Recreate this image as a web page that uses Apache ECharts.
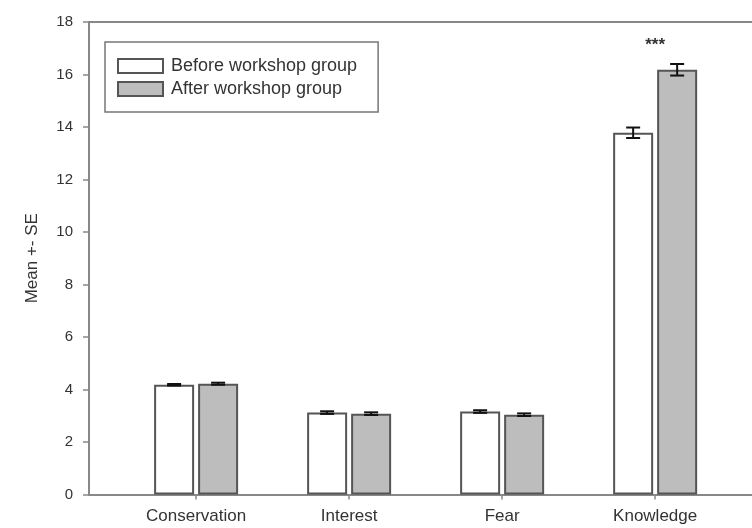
<!DOCTYPE html>
<html>
<head>
<meta charset="utf-8">
<script src="https://cdn.jsdelivr.net/npm/echarts@6/dist/echarts.min.js"></script>
<style>
html,body{margin:0;padding:0;background:#fff;}
#chart{width:752px;height:528px;}
</style>
</head>
<body>
<div id="chart"></div>
<script>
var categories = ['Conservation', 'Interest', 'Fear', 'Knowledge'];
var beforeMean = [4.18, 3.12, 3.16, 13.78];
var beforeSE = [0.03, 0.05, 0.05, 0.2];
var afterMean = [4.22, 3.08, 3.04, 16.18];
var afterSE = [0.04, 0.05, 0.05, 0.22];
var significance = ['', '', '', '***'];
var yTicks = [0, 2, 4, 6, 8, 10, 12, 14, 16, 18];

var FONT = 'Liberation Sans, Arial, sans-serif';
var BAR_W = 40, BAR_GAP_PX = 4;
var half = (BAR_W + BAR_GAP_PX) / 2;

function pts(arr) { return arr.map(function (v, i) { return [i, v]; }); }
function errData(m, s) { return m.map(function (v, i) { return [i, v, s[i]]; }); }

function errRender(dir) {
  return function (params, api) {
    var x = api.value(0), m = api.value(1), e = api.value(2);
    var top = api.coord([x, m + e]);
    var bot = api.coord([x, m - e]);
    var cx = top[0] + dir * half;
    var cap = 7;
    var st = { stroke: '#111', lineWidth: 2 };
    return {
      type: 'group',
      children: [
        { type: 'line', shape: { x1: cx, y1: top[1], x2: cx, y2: bot[1] }, style: st },
        { type: 'line', shape: { x1: cx - cap, y1: top[1], x2: cx + cap, y2: top[1] }, style: st },
        { type: 'line', shape: { x1: cx - cap, y1: bot[1], x2: cx + cap, y2: bot[1] }, style: st }
      ]
    };
  };
}

var chart = echarts.init(document.getElementById('chart'), null, { renderer: 'canvas' });
var option = {
  animation: false,
  backgroundColor: '#fff',
  textStyle: { fontFamily: FONT },
  grid: { left: 89, right: 0, top: 22, bottom: 33.5, containLabel: false },
  legend: {
    orient: 'vertical',
    left: 105, top: 42,
    data: ['Before workshop group', 'After workshop group'],
    borderColor: '#777', borderWidth: 1.5,
    padding: [15, 21, 14, 12],
    itemWidth: 45, itemHeight: 14, itemGap: 5,
    icon: 'rect',
    textStyle: { fontSize: 18, color: '#333', fontFamily: FONT, padding: [0, 0, 0, 3] }
  },
  xAxis: [{
    type: 'value', min: -0.7, max: 3.633,
    splitLine: { show: false },
    axisLine: { show: true, onZero: false, lineStyle: { color: '#888', width: 2 } },
    axisTick: { show: true, length: 5, customValues: [0, 1, 2, 3], lineStyle: { color: '#888', width: 1.5 } },
    axisLabel: {
      customValues: [0, 1, 2, 3], margin: 13,
      fontSize: 17, color: '#333', fontFamily: FONT,
      formatter: function (v) { return categories[Math.round(v)]; }
    }
  }, {
    type: 'value', position: 'top', min: -0.7, max: 3.633,
    splitLine: { show: false },
    axisLine: { show: true, onZero: false, lineStyle: { color: '#888', width: 2 } },
    axisTick: { show: false }, axisLabel: { show: false }
  }],
  yAxis: {
    type: 'value', min: 0, max: 18, interval: 2,
    name: 'Mean +- SE', nameLocation: 'middle', nameGap: 48,
    nameTextStyle: { fontSize: 17, color: '#333', fontFamily: FONT },
    splitLine: { show: false },
    axisLine: { show: true, onZero: false, lineStyle: { color: '#888', width: 2 } },
    axisTick: { show: true, inside: false, length: 6, lineStyle: { color: '#888', width: 1.5 } },
    axisLabel: {
      margin: 16, fontSize: 15, color: '#333', fontFamily: FONT,
      customValues: yTicks
    }
  },
  series: [{
    name: 'Before workshop group', type: 'bar', xAxisIndex: 0,
    data: pts(beforeMean), barWidth: BAR_W, barGap: '10%',
    itemStyle: { color: '#ffffff', borderColor: '#555', borderWidth: 2 }
  }, {
    name: 'After workshop group', type: 'bar', xAxisIndex: 0,
    data: pts(afterMean), barWidth: BAR_W, barGap: '10%',
    itemStyle: { color: '#bdbdbd', borderColor: '#555', borderWidth: 2 }
  }, {
    type: 'custom', xAxisIndex: 0, renderItem: errRender(-1),
    data: errData(beforeMean, beforeSE), encode: { x: 0, y: 1 }, z: 5, silent: true
  }, {
    type: 'custom', xAxisIndex: 0, renderItem: errRender(1),
    data: errData(afterMean, afterSE), encode: { x: 0, y: 1 }, z: 5, silent: true
  }, {
    type: 'custom', xAxisIndex: 0, silent: true, z: 6,
    data: significance.map(function (s, i) {
      return [i, Math.max(beforeMean[i] + beforeSE[i], afterMean[i] + afterSE[i]) + 0.7, s];
    }),
    encode: { x: 0, y: 1 },
    renderItem: function (params, api) {
      var p = api.coord([api.value(0), api.value(1)]);
      var txt = significance[params.dataIndex];
      return {
        type: 'text',
        style: { text: txt, x: p[0], y: p[1], align: 'center', verticalAlign: 'middle',
                 fontSize: 17, fontWeight: 'bold', fill: '#333', fontFamily: FONT }
      };
    }
  }]
};
chart.setOption(option);
</script>
</body>
</html>
